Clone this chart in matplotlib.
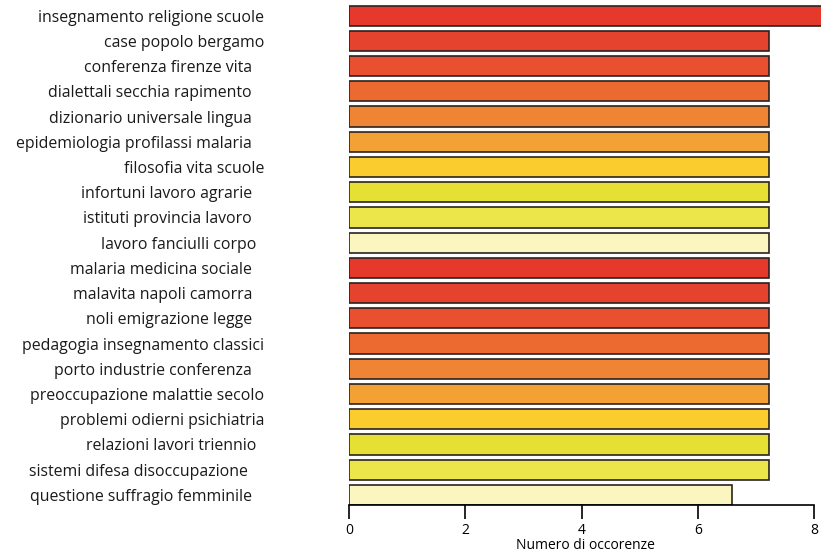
import matplotlib
matplotlib.use("Agg")
import matplotlib.pyplot as plt

# etichette (con spazi finali come nell'originale)
labels = ["insegnamento religione scuole", "case popolo bergamo",
          "conferenza firenze vita   ", "dialettali secchia rapimento   ",
          "dizionario universale lingua   ", "epidemiologia profilassi malaria   ",
          "filosofia vita scuole", "infortuni lavoro agrarie   ",
          "istituti provincia lavoro   ", "lavoro fanciulli corpo  ",
          "malaria medicina sociale   ", "malavita napoli camorra   ",
          "noli emigrazione legge   ", "pedagogia insegnamento classici",
          "porto industrie conferenza   ", "preoccupazione malattie secolo",
          "problemi odierni psichiatria", "relazioni lavori triennio  ",
          "sistemi difesa disoccupazione    ", "questione suffragio femminile   "]
values = [8.4, 7.23, 7.23, 7.23, 7.23, 7.23, 7.23, 7.23, 7.23, 7.23,
          7.23, 7.23, 7.23, 7.23, 7.23, 7.23, 7.23, 7.23, 7.23, 6.59]
palette = ["#E5392C", "#E6432F", "#E8502F", "#EC6A30", "#EF8434",
           "#F3A035", "#FBCC2E", "#E6E035", "#EDE64B", "#FBF5C0"]
ticks = [0, 2, 4, 6, 8]

plt.rcParams["font.family"] = ["Open Sans", "DejaVu Sans"]

fig = plt.figure(figsize=(8.21, 5.56), dpi=100)
ax = fig.add_axes([349 / 821, 51 / 556, 472 / 821, 502 / 556])

y = range(len(labels))
colors = [palette[i % len(palette)] for i in y]
ax.barh(list(y), values, height=0.8, color=colors, edgecolor="#2a2320",
        linewidth=1.2)
ax.set_ylim(19.4, -0.5)
ax.set_xlim(0, 8.12)
ax.set_yticks(list(y))
ax.set_yticklabels(labels, fontsize=11.4, color="#1a1a1a")
ax.tick_params(axis="y", length=0, pad=61)
ax.set_xticks(ticks)
ax.set_xticklabels([str(t) for t in ticks], fontsize=10)
ax.tick_params(axis="x", length=10, width=1.2, direction="out", pad=3)
ax.set_xlabel("Numero di occorenze", fontsize=10, labelpad=0)

for s in ("top", "right", "left"):
    ax.spines[s].set_visible(False)
ax.spines["bottom"].set_bounds(0, 8)
ax.spines["bottom"].set_linewidth(1.2)

fig.savefig("out.png", dpi=100)
